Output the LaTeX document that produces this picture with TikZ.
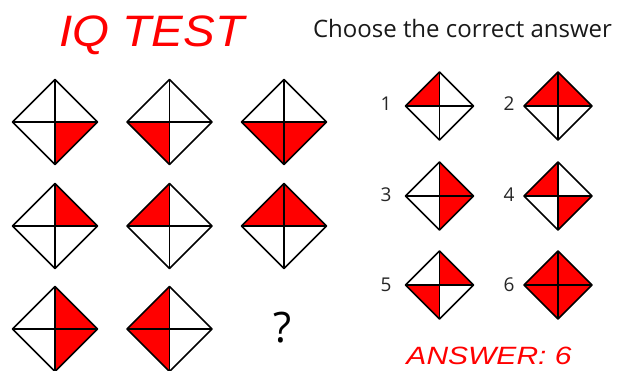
\documentclass[tikz,border=0pt]{standalone}
\usepackage{fontspec}
\setmainfont{Open Sans}
\newfontfamily\comicfont{Liberation Sans}
\definecolor{iqred}{RGB}{255,0,0}
\newcommand\iqdiamond[4]{% x, y, half size, list of filled quadrants (0=TR,90=TL,180=BL,270=BR)
  \foreach \qa in {#4}{%
    \fill[iqred] (#1,#2) -- ++(\qa:#3) -- ($(#1,#2)+(\qa+90:#3)$) -- cycle;}
  \draw[diaedge] (#1+#3,#2) -- (#1,#2+#3) -- (#1-#3,#2) -- (#1,#2-#3) -- cycle;
  \draw[diaedge] (#1-#3,#2) -- (#1+#3,#2) (#1,#2-#3) -- (#1,#2+#3);
}
\usetikzlibrary{calc}
\begin{document}
\begin{tikzpicture}[x=1pt,y=1pt,
  diaedge/.style={line width=1.7pt,line join=round,black},
  numlabel/.style={anchor=base,inner sep=0pt,font=\fontsize{19}{19}\selectfont,text=black!85},
  title/.style={anchor=base,inner sep=0pt}]
\useasboundingbox (0,0) rectangle (618,371);
\fill[white] (0,0) rectangle (618,371);
% titles
\node[title,text=iqred,font=\comicfont\itshape\fontsize{44}{44}\selectfont,xscale=1.08] (iq) at (152,324) {IQ TEST};
\node[title,font=\fontsize{24}{24}\selectfont,text=black!90] (choose) at (462.5,333) {Choose the correct answer};
% left grid
\iqdiamond{55}{249}{42.5}{270}
\iqdiamond{169.5}{249}{42.5}{180}
\iqdiamond{284}{249}{42.5}{180,270}
\iqdiamond{55}{145}{42.5}{0}
\iqdiamond{169.5}{145}{42.5}{90}
\iqdiamond{284}{145}{42.5}{90,0}
\iqdiamond{55}{42}{42.5}{0,270}
\iqdiamond{169.5}{42}{42.5}{90,180}
\node[title,font=\fontsize{42}{42}\selectfont] (q) at (283,28) {?};
% answers
\iqdiamond{439.5}{265}{34}{90}
\iqdiamond{558}{265}{34}{90,0}
\iqdiamond{439.5}{175}{34}{0,270}
\iqdiamond{558}{175}{34}{90,270}
\iqdiamond{439.5}{86}{34}{0,180}
\iqdiamond{558}{86}{34}{0,90,180,270}
\node[numlabel] (n1) at (386,260) {1};
\node[numlabel] (n2) at (509,260) {2};
\node[numlabel] (n3) at (386,169) {3};
\node[numlabel] (n4) at (509,169) {4};
\node[numlabel] (n5) at (386,79) {5};
\node[numlabel] (n6) at (509,79) {6};
\node[title,text=iqred,font=\comicfont\itshape\fontsize{25}{25}\selectfont,xscale=1.2] (ans) at (489,6) {ANSWER: 6};
\end{tikzpicture}
\end{document}
